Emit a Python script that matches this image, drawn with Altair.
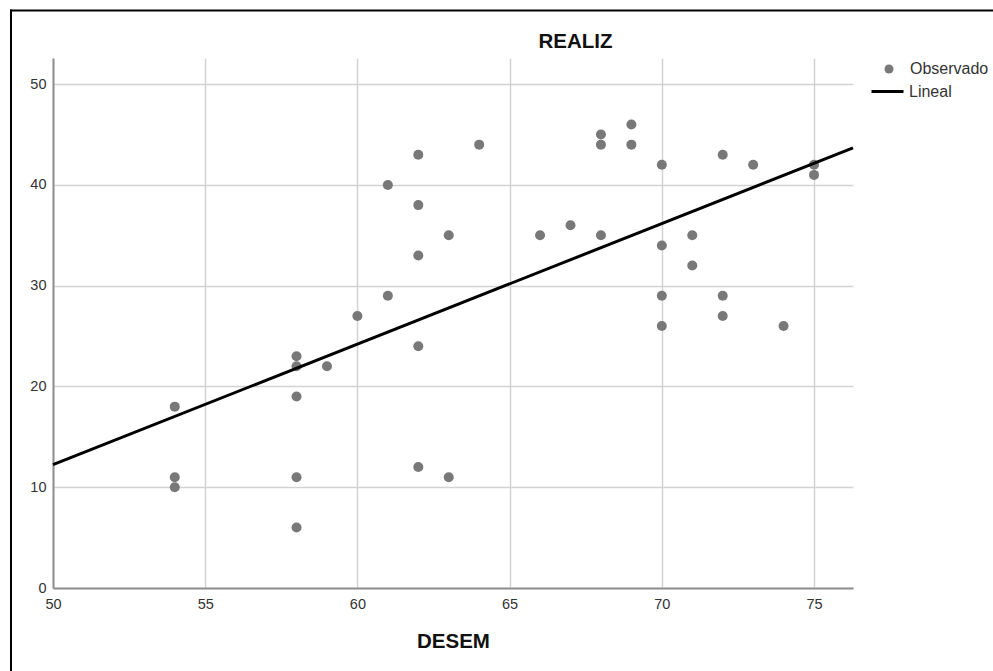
import altair as alt
import pandas as pd

# Observed data (DESEM, REALIZ)
desem = [54, 54, 54, 58, 58, 58, 58, 58, 59, 60, 61, 61, 62, 62, 62, 62, 62, 63, 63, 64,
         66, 67, 68, 68, 68, 69, 69, 70, 70, 70, 70, 71, 71, 72, 72, 72, 73, 74, 75, 75]
realiz = [18, 11, 10, 23, 22, 19, 11, 6, 22, 27, 40, 29, 43, 38, 33, 24, 12, 35, 11, 44,
          35, 36, 45, 44, 35, 46, 44, 42, 34, 29, 26, 35, 32, 43, 29, 27, 42, 26, 42, 41]
series_names = ["Observado", "Lineal"]
x_ticks = [50, 55, 60, 65, 70, 75]
y_ticks = [0, 10, 20, 30, 40, 50]
x_domain = [50, 76.28]
y_domain = [0, 52.6]

FONT = "Liberation Sans"
POINT_COLOR = "#787878"

df = pd.DataFrame({"DESEM": desem, "REALIZ": realiz, "serie": series_names[0]})

x_enc = alt.X(
    "DESEM:Q",
    scale=alt.Scale(domain=x_domain, nice=False, zero=False),
    axis=alt.Axis(values=x_ticks, title="DESEM", labelPadding=9, titlePadding=21,
                  labelFlush=False),
)
y_enc = alt.Y(
    "REALIZ:Q",
    scale=alt.Scale(domain=y_domain, nice=False, zero=True),
    axis=alt.Axis(values=y_ticks, title="REALIZ", titleAngle=0, titleX=522, titleY=-17,
                  titleAlign="center", titleBaseline="middle", labelPadding=7,
                  labelFlush=False),
)

points = alt.Chart(df).mark_circle(size=100, opacity=1).encode(
    x=x_enc,
    y=y_enc,
    fill=alt.Fill(
        "serie:N",
        scale=alt.Scale(domain=[series_names[0]], range=[POINT_COLOR]),
        legend=alt.Legend(title=None, orient="none", legendX=828, legendY=3,
                          symbolType="circle", symbolSize=81, symbolStrokeWidth=0,
                          labelFont=FONT, labelFontSize=16, labelColor="#333333",
                          labelOffset=13, padding=0),
    ),
)

fit = alt.Chart(df).transform_regression(
    "DESEM", "REALIZ", extent=x_domain
).transform_calculate(
    serie=f"'{series_names[1]}'"
).mark_line(strokeWidth=3).encode(
    x="DESEM:Q",
    y="REALIZ:Q",
    stroke=alt.Stroke(
        "serie:N",
        scale=alt.Scale(domain=[series_names[1]], range=["#000000"]),
        legend=alt.Legend(title=None, orient="none", legendX=817, legendY=16,
                          symbolType="stroke", symbolSize=1024, symbolStrokeWidth=3,
                          labelFont=FONT, labelFontSize=16, labelColor="#333333",
                          labelOffset=4, padding=0),
    ),
)

frame_df = pd.DataFrame({"k": [0]})
frame_top = alt.Chart(frame_df).mark_rule(color="#000000", strokeWidth=2).encode(
    x=alt.value(-43), x2=alt.value(940), y=alt.value(-47.5)
)
frame_left = alt.Chart(frame_df).mark_rule(color="#000000", strokeWidth=2).encode(
    x=alt.value(-42), y=alt.value(-48.5), y2=alt.value(613)
)

chart = alt.layer(points, fit, frame_top, frame_left).properties(
    width=800,
    height=530,
    autosize=alt.AutoSizeParams(type="none"),
    padding={"left": 53, "top": 58, "right": 140, "bottom": 83},
    background="#ffffff",
).configure_view(
    strokeWidth=0
).configure_axis(
    domainColor="#8f8f8f",
    domainWidth=2,
    gridColor="#d3d3d3",
    gridWidth=1.5,
    ticks=False,
    labelFont=FONT,
    labelFontSize=14.5,
    labelColor="#333333",
    titleFont=FONT,
    titleFontSize=20.5,
    titleFontWeight="bold",
    titleColor="#111111",
)

chart.save("out.html", embed_options={"renderer": "svg", "actions": False})
